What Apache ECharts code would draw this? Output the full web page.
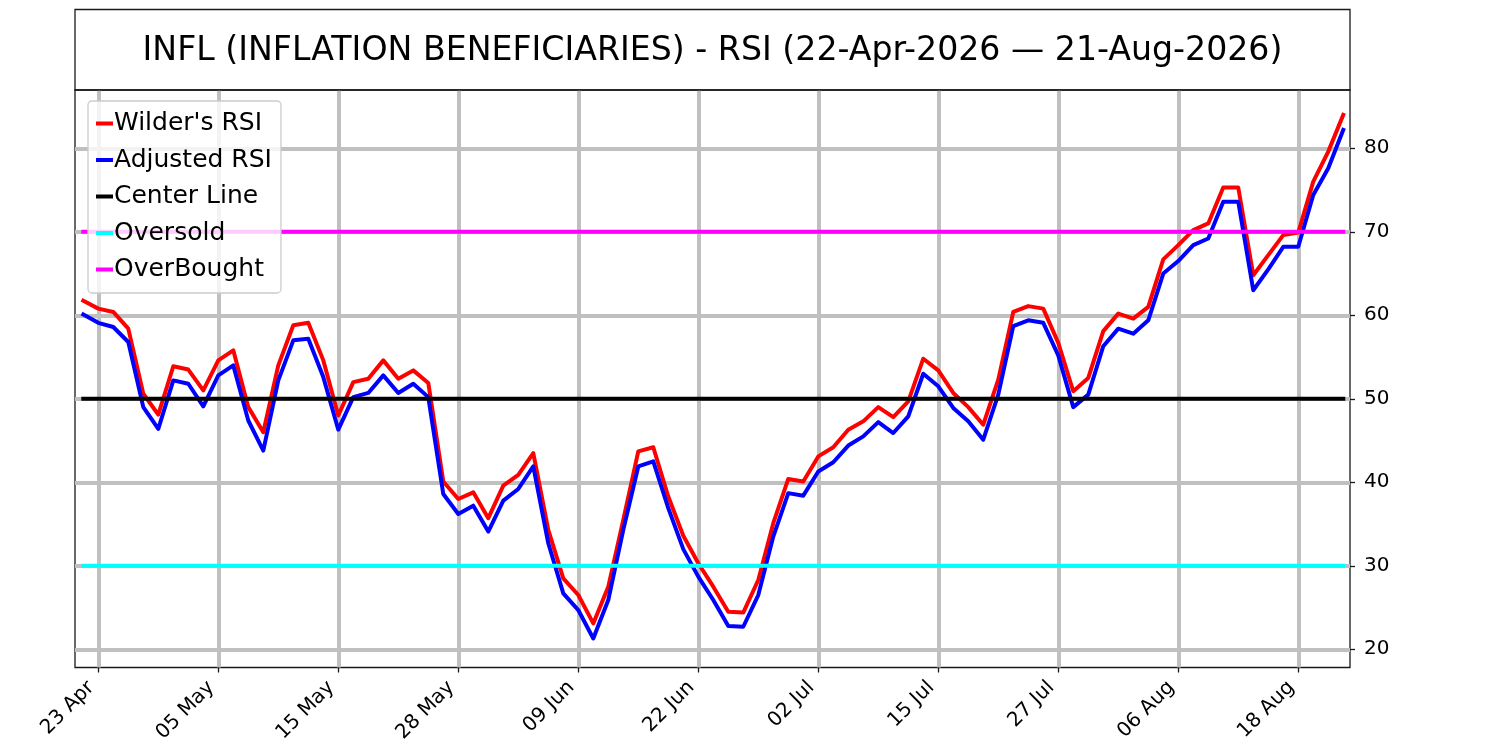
<!DOCTYPE html>
<html>
<head>
<meta charset="utf-8">
<script src="https://cdn.jsdelivr.net/npm/echarts@6/dist/echarts.min.js"></script>
<style>
html, body { margin: 0; padding: 0; background: #fff; }
#chart { width: 1500px; height: 750px; }
</style>
</head>
<body>
<div id="chart"></div>
<script>
// RSI values, one per trading day, 22 Apr .. 21 Aug 2026
const wilderRsi = [
  61.75, 60.8, 60.4, 58.4, 50.6, 48.1, 53.9, 53.5, 51.0, 54.6,
  55.8, 49.0, 46.0, 54.0, 58.8, 59.1, 54.6, 48.0, 52.0, 52.4,
  54.6, 52.4, 53.4, 51.9, 40.1, 38.0, 38.8, 35.7, 39.6, 40.9,
  43.5, 34.3, 28.5, 26.5, 23.1, 27.5, 35.5, 43.7, 44.2, 38.3,
  33.6, 30.3, 27.5, 24.5, 24.4, 28.3, 35.1, 40.4, 40.1, 43.1,
  44.2, 46.3, 47.3, 49.0, 47.8, 49.7, 54.8, 53.4, 50.7, 49.0,
  46.9, 52.3, 60.4, 61.1, 60.8, 56.7, 50.9, 52.5, 58.1, 60.2,
  59.6, 61.0, 66.7, 68.4, 70.2, 71.0, 75.3, 75.3, 64.8, 67.2,
  69.6, 69.9, 76.0, 79.6, 84.0
];
const adjustedRsi = [
  60.1, 59.1, 58.6, 56.8, 49.0, 46.4, 52.2, 51.8, 49.1, 52.8,
  54.0, 47.4, 43.8, 52.2, 57.0, 57.2, 52.6, 46.3, 50.2, 50.7,
  52.8, 50.7, 51.8, 50.2, 38.6, 36.2, 37.2, 34.1, 37.8, 39.2,
  41.9, 32.7, 26.7, 24.7, 21.3, 25.9, 34.3, 41.9, 42.5, 36.9,
  32.0, 28.7, 25.9, 22.8, 22.7, 26.5, 33.5, 38.7, 38.4, 41.3,
  42.4, 44.4, 45.5, 47.2, 45.9, 47.9, 53.0, 51.5, 48.9, 47.3,
  45.1, 50.5, 58.7, 59.4, 59.1, 55.2, 49.0, 50.5, 56.3, 58.4,
  57.8, 59.4, 65.0, 66.5, 68.4, 69.2, 73.6, 73.6, 63.0, 65.5,
  68.2, 68.2, 74.4, 77.6, 82.2
];
const centerLevel = 50;
const oversoldLevel = 30;
const overboughtLevel = 70;

const tickIndex = [1, 9, 17, 25, 33, 41, 49, 57, 65, 73, 81];
const tickLabels = ['23 Apr', '05 May', '15 May', '28 May', '09 Jun', '22 Jun',
                    '02 Jul', '15 Jul', '27 Jul', '06 Aug', '18 Aug'];
const yTicks = [20, 30, 40, 50, 60, 70, 80];
const titleText = 'INFL (INFLATION BENEFICIARIES) - RSI (22-Apr-2026 \u2014 21-Aug-2026)';

const FONT = 'DejaVu Sans';
const chart = echarts.init(document.getElementById('chart'));

const toPoints = arr => arr.map((v, i) => [i, v]);
const flatLine = level => wilderRsi.map((_, i) => [i, level]);

function lineSeries(name, data, color) {
    return {
        name: name,
        type: 'line',
        data: data,
        symbol: 'none',
        color: color,
        lineStyle: { color: color, width: 4, join: 'round', cap: 'square' },
        emphasis: { disabled: true },
        silent: true
    };
}

const option = {
    animation: false,
    backgroundColor: '#fff',
    textStyle: { fontFamily: FONT },
    grid: {
        left: 75, right: 150, top: 90, bottom: 82.5,
        show: true, borderColor: '#1a1a1a', borderWidth: 1.3,
        backgroundColor: 'transparent'
    },
    graphic: [
        {
            type: 'rect',
            shape: { x: 75, y: 9.5, width: 1275, height: 80.5 },
            style: { fill: 'none', stroke: '#1a1a1a', lineWidth: 1.3 },
            z: 10
        },
        {
            type: 'text',
            x: 712.5, y: 51,
            style: {
                text: titleText,
                font: '33.2px "DejaVu Sans"',
                fill: '#000',
                textAlign: 'center',
                textVerticalAlign: 'middle'
            },
            z: 10
        }
    ],
    legend: {
        left: 88, top: 101,
        orient: 'vertical',
        padding: [8, 9, 9, 8],
        itemGap: 7.5,
        itemWidth: 17, itemHeight: 4,
        icon: 'rect',
        backgroundColor: 'rgba(255,255,255,0.8)',
        borderColor: '#cccccc', borderWidth: 1.3, borderRadius: 4,
        textStyle: {
            fontFamily: FONT, fontSize: 25, color: '#000', lineHeight: 29,
            padding: [0, 0, 0, -4]
        },
        data: ["Wilder's RSI", 'Adjusted RSI', 'Center Line', 'Oversold', 'OverBought']
    },
    xAxis: {
        type: 'value',
        min: -0.553, max: 84.45,
        axisLine: { show: false, onZero: false },
        axisTick: {
            show: true, length: 5, customValues: tickIndex,
            lineStyle: { color: '#1a1a1a', width: 1.3 }
        },
        axisLabel: {
            customValues: tickIndex,
            rotate: 45, margin: 24,
            align: 'right', verticalAlign: 'bottom',
            fontFamily: FONT, fontSize: 20, color: '#000',
            formatter: v => tickLabels[tickIndex.indexOf(Math.round(v))] || ''
        },
        splitLine: {
            show: true, customValues: tickIndex,
            lineStyle: { color: '#c0c0c0', width: 4 }
        }
    },
    yAxis: {
        type: 'value',
        position: 'right',
        min: 17.82, max: 86.98,
        axisLine: { show: false, onZero: false },
        axisTick: {
            show: true, length: 5, customValues: yTicks,
            lineStyle: { color: '#1a1a1a', width: 1.3 }
        },
        axisLabel: {
            customValues: yTicks, margin: 14,
            fontFamily: FONT, fontSize: 20, color: '#000'
        },
        splitLine: {
            show: true, customValues: yTicks,
            lineStyle: { color: '#c0c0c0', width: 4 }
        }
    },
    series: [
        lineSeries("Wilder's RSI", toPoints(wilderRsi), '#ff0000'),
        lineSeries('Adjusted RSI', toPoints(adjustedRsi), '#0000ff'),
        lineSeries('Center Line', flatLine(centerLevel), '#000000'),
        lineSeries('Oversold', flatLine(oversoldLevel), '#00ffff'),
        lineSeries('OverBought', flatLine(overboughtLevel), '#ff00ff')
    ]
};

chart.setOption(option);
</script>
</body>
</html>
